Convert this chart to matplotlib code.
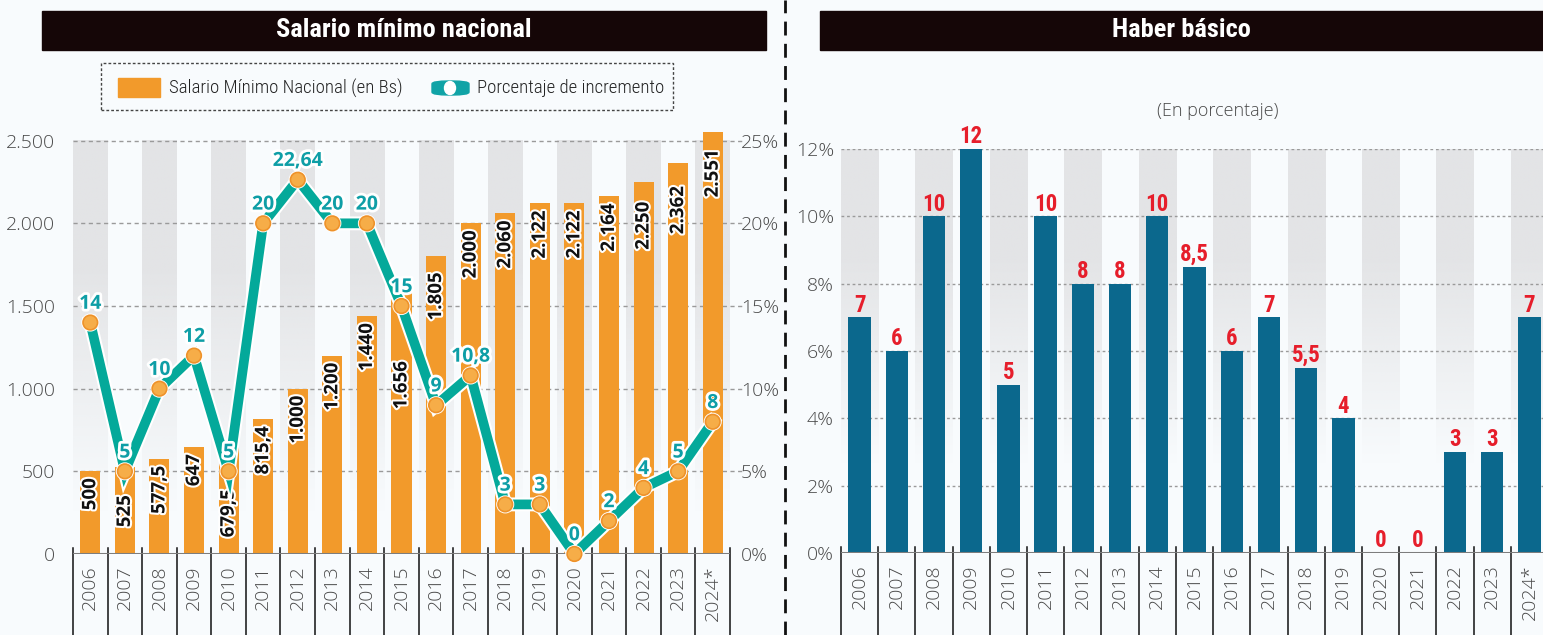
import numpy as np
import matplotlib.pyplot as plt
import matplotlib.patheffects as pe
from matplotlib.patches import Rectangle, FancyBboxPatch, Ellipse
from matplotlib.lines import Line2D
from matplotlib.colors import to_rgb

# ==============================================================================
# Data
# ==============================================================================
years = ['2006', '2007', '2008', '2009', '2010', '2011', '2012', '2013', '2014',
         '2015', '2016', '2017', '2018', '2019', '2020', '2021', '2022', '2023',
         '2024*']
salario = [500, 525, 577.5, 647, 679.5, 815.4, 1000, 1200, 1440, 1656, 1805,
           2000, 2060, 2122, 2122, 2164, 2250, 2362, 2551]
salario_lbl = ['500', '525', '577,5', '647', '679,5', '815,4', '1.000', '1.200',
               '1.440', '1.656', '1.805', '2.000', '2.060', '2.122', '2.122',
               '2.164', '2.250', '2.362', '2.551']
incremento = [14, 5, 10, 12, 5, 20, 22.64, 20, 20, 15, 9, 10.8, 3, 3, 0, 2, 4, 5, 8]
incremento_lbl = ['14', '5', '10', '12', '5', '20', '22,64', '20', '20', '15', '9',
                  '10,8', '3', '3', '0', '2', '4', '5', '8']
haber = [7, 6, 10, 12, 5, 10, 8, 8, 10, 8.5, 6, 7, 5.5, 4, 0, 0, 3, 3, 7]
haber_lbl = ['7', '6', '10', '12', '5', '10', '8', '8', '10', '8,5', '6', '7',
             '5,5', '4', '0', '0', '3', '3', '7']

# ==============================================================================
# Style
# ==============================================================================
W, H = 1543, 635
BG = '#f8fbfd'
ORANGE = '#f29a2b'
TEAL = '#04a99a'
BLUE = '#0b688d'
RED = '#e61e2b'
GRID = '#9a9a9a'
TICK = '#4a4a4a'
COND = ['Roboto Condensed', 'DejaVu Sans']
SANS = ['Open Sans', 'DejaVu Sans']

def fx(px):
    return px / W

def fy(py):
    return 1 - py / H

def bands(ax, n, top, fade):
    # alternating grey columns fading downward
    g = np.zeros((200, 1, 4))
    g[..., :3] = to_rgb('#e3e4e6')
    t = np.linspace(1, 0, 200)
    g[:, 0, 3] = np.clip((t - fade) / (1 - fade) * 1.5, 0, 1)
    for i in range(0, n, 2):
        ax.imshow(g, extent=(i - 0.5, i + 0.5, 0, top), aspect='auto',
                  zorder=0, interpolation='bilinear')

def separators(ax, n):
    tr = ax.get_xaxis_transform()
    for b in np.arange(n + 1) - 0.5:
        ax.plot([b, b], [0.015, -0.3], transform=tr, color='#111',
                lw=1.1, clip_on=False, zorder=3)

def style_ticks(ax, pad_y):
    ax.tick_params(length=0, colors=TICK, labelsize=14)
    ax.tick_params(axis='y', pad=pad_y)
    ax.tick_params(axis='x', pad=8)
    for lb in ax.get_xticklabels() + ax.get_yticklabels():
        lb.set_family(SANS)
        lb.set_fontweight('light')
    for s in ax.spines.values():
        s.set_visible(False)

fig = plt.figure(figsize=(W / 100, H / 100), dpi=100, facecolor=BG)
x = np.arange(len(years))

# ==============================================================================
# Salario minimo nacional
# ==============================================================================
ax = fig.add_axes([fx(73), fy(554), fx(730) - fx(73), fy(125) - fy(554)])
ax.set_facecolor('none')
top_bs = 2500 + (140.7 - 125) / (414.0 / 2500)
bands(ax, len(years), 2500, 0.1)
for v in range(500, 2501, 500):
    ax.plot([-0.5, len(years) - 0.5 + 0.35], [v, v], color=GRID, lw=1,
            ls=(0, (3, 2.5)), zorder=1, clip_on=False)
ax.bar(x, salario, width=0.58, color=ORANGE, zorder=2)
ax.axhline(0, color='#7d7d7d', lw=2.2, zorder=4)
ax.set_xlim(-0.5, len(years) - 0.5)
ax.set_ylim(0, top_bs)
ax.set_yticks(range(0, 2501, 500))
ax.set_yticklabels(['0', '500', '1.000', '1.500', '2.000', '2.500'])
ax.set_xticks(x)
ax.set_xticklabels(years, rotation=90, va='top')
style_ticks(ax, 13)
separators(ax, len(years))

# bar labels, pushed down where the line crosses them
shift = {1: 20, 4: 34, 9: 58, 10: 12, 16: 14, 17: 16, 18: 12}
for i, (v, lb) in enumerate(zip(salario, salario_lbl)):
    ax.annotate(lb, (i, v), xytext=(0, -shift.get(i, 5)), textcoords='offset points',
                rotation=90, ha='center', va='top', fontsize=13.5, fontweight='bold',
                family=SANS, color='#111', zorder=5,
                path_effects=[pe.withStroke(linewidth=3, foreground='white')])

ax2 = ax.twinx()
ax2.set_ylim(0, top_bs / 100)
ax2.set_yticks(range(0, 26, 5))
ax2.set_yticklabels([f'{p}%' for p in range(0, 26, 5)])
style_ticks(ax2, 8)
ax2.plot(x, incremento, color=TEAL, lw=7, solid_joinstyle='miter', zorder=6,
         path_effects=[pe.Stroke(linewidth=10, foreground='white'), pe.Normal()])
ax2.plot(x, incremento, ls='none', marker='o', ms=10.5, mfc='#f6ad48',
         mec='#ee922a', mew=1.2, zorder=7, clip_on=False,
         path_effects=[pe.Stroke(linewidth=2.5, foreground='white'), pe.Normal()])
for i, (v, lb) in enumerate(zip(incremento, incremento_lbl)):
    ax2.annotate(lb, (i, v), xytext=(0, 13.5), textcoords='offset points',
                 ha='center', va='center', fontsize=14, fontweight='bold',
                 family=SANS, color='#0e9ea6', zorder=8,
                 path_effects=[pe.withStroke(linewidth=4, foreground='white')])

# ==============================================================================
# Haber basico
# ==============================================================================
bx = fig.add_axes([fx(841), fy(553), fx(1548) - fx(841), fy(149) - fy(553)])
bx.set_facecolor('none')
bands(bx, len(years), 12, 0.22)
for v in range(2, 13, 2):
    bx.axhline(v, color=GRID, lw=1, ls=(0, (2, 2)), zorder=1)
bx.bar(x, haber, width=0.6, color=BLUE, zorder=2)
bx.axhline(0, color='#7d7d7d', lw=2.2, zorder=4)
bx.set_xlim(-0.5, len(years) - 0.5)
bx.set_ylim(0, 12)
bx.set_yticks(range(0, 13, 2))
bx.set_yticklabels([f'{p}%' for p in range(0, 13, 2)])
bx.set_xticks(x)
bx.set_xticklabels(years, rotation=90, va='top')
style_ticks(bx, 5)
separators(bx, len(years))
for i, (v, lb) in enumerate(zip(haber, haber_lbl)):
    bx.annotate(lb, (i, v), xytext=(0, 0.5), textcoords='offset points',
                ha='center', va='bottom', fontsize=16.5, fontweight='bold',
                family=COND, color=RED, zorder=5, annotation_clip=False)

# ==============================================================================
# Headers, legend and divider
# ==============================================================================
for x0, x1, title in [(42, 766, 'Salario mínimo nacional'), (820, 1543, 'Haber básico')]:
    fig.patches.append(Rectangle((fx(x0), fy(50)), fx(x1) - fx(x0), fy(11) - fy(50),
                                 transform=fig.transFigure, color='#150607', zorder=0))
    fig.text(fx((x0 + x1) / 2), fy(30), title, color='white', fontsize=19,
             fontweight='bold', family=COND, ha='center', va='center')

fig.text(fx(1218), fy(111), '(En porcentaje)', fontsize=13, color=TICK,
         family=SANS, fontweight='light', ha='center', va='center')

fig.lines.append(Line2D([fx(785), fx(785)], [0, 1], transform=fig.transFigure,
                        color='#111', lw=2, ls=(0, (5, 3))))

fig.patches.append(Rectangle((fx(101), fy(110)), fx(673) - fx(101), fy(63) - fy(110),
                             transform=fig.transFigure, fill=False, ec='#444',
                             lw=1, ls=(0, (2, 1.5))))
fig.patches.append(Rectangle((fx(118), fy(97)), fx(160) - fx(118), fy(78) - fy(97),
                             transform=fig.transFigure, color=ORANGE))
fig.text(fx(169), fy(88), 'Salario Mínimo Nacional (en Bs)', fontsize=13.5,
         family=COND, fontweight='light', color='#222', va='center')
fig.patches.append(FancyBboxPatch((fx(432), fy(95)), fx(469) - fx(432), fy(81) - fy(95),
                                  boxstyle='round,pad=0,rounding_size=0.011',
                                  transform=fig.transFigure, color='#10a3a6',
                                  mutation_aspect=H / W))
fig.patches.append(Ellipse((fx(450), fy(88)), fx(11), 13 / H,
                           transform=fig.transFigure, color='white'))
fig.text(fx(477), fy(88), 'Porcentaje de incremento', fontsize=13.5,
         family=COND, fontweight='light', color='#222', va='center')

fig.savefig('out.png', dpi=100, facecolor=BG)
